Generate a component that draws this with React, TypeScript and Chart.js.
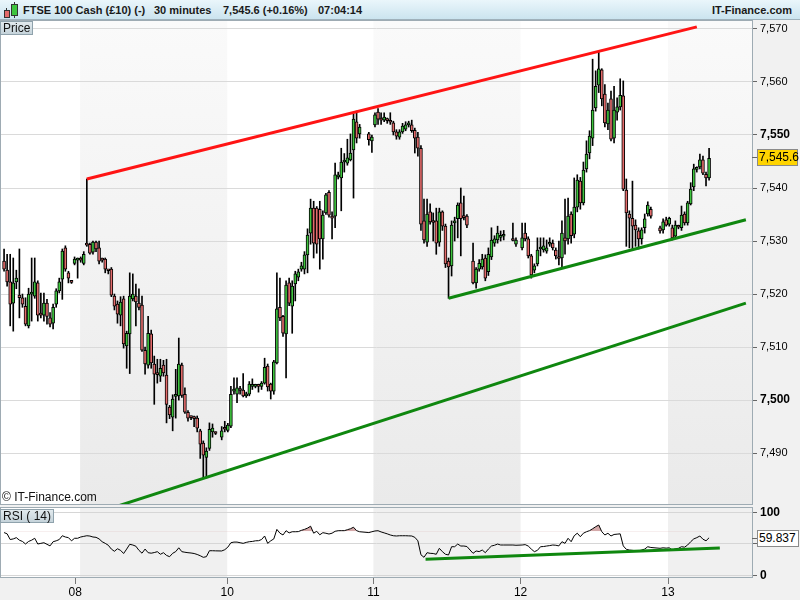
import React, { useEffect, useRef } from "react";
import { Chart, registerables } from "chart.js";

Chart.register(...registerables);

// [open, high, low, close] per 30-minute slot, null = no candle in that slot
type Candle = [number, number, number, number] | null;

const ohlc: Candle[] = [
  [7526.2, 7528.5, 7524.3, 7524.7], [7524.5, 7527.5, 7521.5, 7522.3], [7522.3, 7527.5, 7514.0, 7518.1],
  [7518.3, 7526.8, 7513.0, 7522.1], [7522.3, 7524.5, 7521.0, 7523.0], [7519.8, 7528.5, 7515.5, 7519.3],
  [7519.3, 7520.0, 7517.5, 7518.1], [7517.7, 7519.3, 7514.0, 7514.3], [7514.0, 7521.1, 7513.6, 7520.0],
  [7520.0, 7526.8, 7514.9, 7520.2], [7519.6, 7526.8, 7519.2, 7522.3], [7522.1, 7522.5, 7514.9, 7516.0],
  [7516.4, 7520.2, 7515.5, 7516.0], [7516.0, 7520.2, 7514.9, 7518.3], [7518.3, 7519.0, 7514.3, 7515.8],
  [7515.5, 7516.5, 7513.8, 7514.3], [7514.5, 7518.1, 7513.4, 7517.5], [7518.1, 7521.0, 7517.5, 7520.6],
  [7520.6, 7523.0, 7520.2, 7522.3], [7522.8, 7528.5, 7519.0, 7528.1], [7528.7, 7529.1, 7524.3, 7524.7],
  [7524.0, 7524.3, 7522.1, 7523.0], [7522.3, 7522.5, 7522.0, 7522.2], [7525.8, 7527.0, 7525.5, 7526.6],
  [7526.4, 7526.8, 7523.0, 7526.5], [7526.8, 7527.0, 7526.0, 7526.4], [7525.8, 7528.0, 7525.5, 7527.5],
  [7529.6, 7541.7, 7529.0, 7529.2], [7529.4, 7529.6, 7527.5, 7527.7], [7527.9, 7530.0, 7527.5, 7529.8],
  [7529.8, 7530.0, 7528.0, 7528.5], [7528.7, 7530.0, 7525.7, 7526.2], [7526.6, 7526.8, 7526.0, 7526.4],
  [7526.6, 7526.8, 7524.0, 7524.7], [7524.5, 7524.5, 7523.8, 7524.4], [7524.7, 7525.0, 7519.5, 7519.8],
  [7519.6, 7520.0, 7517.0, 7517.7], [7518.1, 7518.7, 7514.5, 7516.2], [7516.0, 7519.5, 7514.0, 7518.5],
  [7519.1, 7519.6, 7509.8, 7510.6], [7510.2, 7513.0, 7506.0, 7512.6], [7512.5, 7524.0, 7505.0, 7519.6],
  [7519.1, 7523.8, 7518.7, 7520.0], [7519.6, 7521.9, 7514.0, 7518.5], [7518.3, 7521.0, 7517.0, 7517.5],
  [7517.9, 7519.6, 7509.2, 7509.4], [7509.4, 7510.0, 7504.9, 7506.8], [7506.6, 7515.8, 7506.0, 7512.6],
  [7512.5, 7513.2, 7506.0, 7507.0], [7506.8, 7508.3, 7499.2, 7504.9], [7505.0, 7507.7, 7503.2, 7504.8],
  [7504.5, 7507.7, 7503.5, 7506.0], [7506.6, 7507.5, 7504.5, 7505.1], [7504.7, 7507.7, 7495.7, 7499.2],
  [7498.7, 7499.0, 7496.5, 7497.2], [7496.8, 7501.0, 7494.2, 7500.2], [7500.7, 7505.8, 7496.6, 7500.8],
  [7500.8, 7511.7, 7500.0, 7506.8], [7506.6, 7507.0, 7500.5, 7500.9], [7501.1, 7502.3, 7497.5, 7497.7],
  [7497.7, 7498.0, 7496.0, 7496.6], [7496.8, 7497.0, 7496.3, 7496.7], [7496.6, 7497.0, 7495.0, 7496.5],
  [7496.6, 7497.0, 7494.0, 7494.7], [7494.2, 7494.5, 7489.0, 7491.7], [7491.9, 7492.3, 7485.3, 7489.6],
  [7489.2, 7491.0, 7485.3, 7490.4], [7490.9, 7495.7, 7490.5, 7494.5], [7494.0, 7495.5, 7493.0, 7494.7],
  [7493.8, 7494.0, 7493.5, 7493.7],
  null,
  [7493.0, 7495.0, 7492.5, 7494.2], [7494.6, 7496.0, 7494.0, 7494.5], [7494.3, 7495.6, 7494.0, 7495.3],
  [7495.1, 7502.6, 7494.8, 7501.1], [7501.7, 7504.2, 7501.1, 7501.8], [7501.1, 7504.2, 7499.5, 7502.3],
  [7501.9, 7502.6, 7501.1, 7501.8], [7501.9, 7505.0, 7500.6, 7500.8], [7500.8, 7501.5, 7500.5, 7501.1],
  [7501.1, 7503.5, 7500.8, 7503.0], [7502.6, 7504.0, 7502.0, 7502.7], [7502.6, 7503.0, 7502.3, 7502.7],
  [7502.7, 7503.0, 7501.5, 7502.6], [7502.6, 7503.5, 7502.0, 7503.2], [7503.2, 7507.9, 7503.0, 7506.2],
  [7506.4, 7506.8, 7501.7, 7502.5], [7503.0, 7503.2, 7500.2, 7501.7], [7501.7, 7507.5, 7501.1, 7507.2],
  [7507.0, 7524.0, 7506.8, 7517.2], [7517.5, 7523.0, 7515.0, 7515.5], [7515.8, 7516.0, 7512.0, 7512.6],
  [7512.5, 7522.5, 7504.2, 7521.7], [7522.1, 7523.0, 7517.8, 7518.3], [7517.7, 7522.5, 7512.6, 7521.5],
  [7521.9, 7524.3, 7518.7, 7523.8], [7523.2, 7524.7, 7522.5, 7524.2], [7524.7, 7526.0, 7524.3, 7525.3],
  [7524.7, 7528.0, 7523.8, 7527.4], [7527.4, 7532.3, 7524.0, 7531.1], [7531.5, 7537.9, 7529.4, 7536.2],
  [7536.2, 7537.5, 7526.8, 7529.6], [7536.2, 7536.5, 7527.7, 7529.4], [7536.0, 7537.5, 7524.7, 7530.4],
  [7530.4, 7535.7, 7526.6, 7534.9], [7535.3, 7539.0, 7535.0, 7538.7], [7539.2, 7539.5, 7534.5, 7534.9],
  [7534.7, 7535.5, 7530.4, 7534.3], [7534.7, 7544.7, 7532.5, 7542.5], [7542.1, 7543.0, 7541.7, 7542.5],
  [7541.9, 7547.5, 7535.7, 7544.9], [7544.9, 7546.5, 7543.0, 7545.0], [7544.7, 7549.2, 7544.3, 7545.7],
  [7545.3, 7550.2, 7545.1, 7546.6], [7547.2, 7554.0, 7538.1, 7553.0], [7552.5, 7554.5, 7548.5, 7549.4],
  [7550.2, 7552.0, 7549.4, 7551.5],
  null, null,
  [7550.2, 7550.5, 7548.1, 7549.1], [7548.9, 7550.0, 7546.7, 7549.6], [7551.9, 7554.2, 7551.5, 7553.8],
  [7554.3, 7555.0, 7552.0, 7553.0], [7552.9, 7554.2, 7552.0, 7552.8], [7552.8, 7554.2, 7552.5, 7553.4],
  [7552.8, 7553.2, 7552.2, 7552.7], [7552.5, 7554.2, 7552.0, 7552.4], [7552.3, 7552.6, 7550.0, 7550.6],
  [7550.6, 7551.0, 7549.2, 7549.8], [7549.6, 7551.0, 7549.2, 7550.6], [7550.6, 7552.2, 7550.3, 7551.7],
  [7551.1, 7552.5, 7550.8, 7551.9], [7551.9, 7552.6, 7551.5, 7552.0], [7551.9, 7552.8, 7550.5, 7550.8],
  [7550.9, 7551.3, 7546.6, 7549.4], [7549.6, 7550.5, 7546.0, 7547.5], [7547.5, 7548.0, 7532.0, 7533.2],
  [7533.8, 7537.9, 7529.6, 7530.2], [7529.8, 7537.9, 7529.0, 7535.1], [7535.5, 7537.0, 7533.2, 7533.6],
  [7533.6, 7535.3, 7530.0, 7533.5], [7533.8, 7536.2, 7527.5, 7529.6], [7529.8, 7536.2, 7529.0, 7535.5],
  [7535.5, 7535.7, 7532.0, 7532.8], [7532.8, 7533.2, 7525.0, 7525.7], [7526.2, 7526.8, 7519.2, 7525.1],
  [7525.3, 7533.8, 7523.4, 7533.0], [7533.4, 7534.5, 7530.0, 7533.8], [7534.2, 7537.2, 7530.6, 7536.8],
  [7537.2, 7540.0, 7527.2, 7534.2], [7534.5, 7538.5, 7534.0, 7534.4], [7534.7, 7535.0, 7532.5, 7533.0],
  null,
  [7526.2, 7529.6, 7521.9, 7522.1], [7522.1, 7525.0, 7521.1, 7524.7], [7524.7, 7526.5, 7524.3, 7525.8],
  [7525.1, 7527.5, 7524.7, 7526.6], [7526.8, 7527.4, 7522.5, 7523.0], [7524.2, 7528.7, 7523.5, 7527.5],
  [7527.0, 7532.5, 7526.5, 7530.2], [7529.6, 7531.0, 7529.0, 7530.4], [7530.2, 7532.8, 7529.6, 7531.5],
  [7530.7, 7531.9, 7530.0, 7530.8], [7530.9, 7532.0, 7530.2, 7531.0],
  null, null,
  [7530.2, 7533.4, 7530.0, 7530.1], [7529.4, 7530.6, 7529.0, 7530.2],
  null,
  [7528.7, 7533.4, 7528.3, 7530.6], [7531.5, 7533.4, 7530.0, 7530.4], [7530.4, 7530.8, 7526.8, 7527.2],
  [7527.2, 7527.5, 7523.0, 7523.6], [7524.5, 7525.7, 7524.0, 7525.3], [7525.7, 7530.6, 7525.3, 7528.3],
  [7528.5, 7530.6, 7527.2, 7528.6], [7528.3, 7530.6, 7527.9, 7529.1], [7528.1, 7530.2, 7527.7, 7528.7],
  [7529.4, 7530.6, 7529.0, 7529.5], [7529.6, 7530.2, 7528.3, 7528.7], [7528.3, 7528.7, 7526.6, 7527.2],
  [7526.8, 7530.0, 7525.5, 7526.7],
  [7526.8, 7533.8, 7525.0, 7531.5], [7530.6, 7537.9, 7527.5, 7530.0], [7530.4, 7538.1, 7529.4, 7534.7],
  [7535.1, 7535.5, 7529.6, 7531.0], [7531.3, 7541.9, 7530.6, 7536.4], [7536.4, 7542.5, 7535.5, 7541.5],
  [7541.3, 7542.0, 7536.0, 7537.2], [7537.2, 7544.9, 7536.8, 7543.4], [7543.6, 7548.9, 7543.0, 7546.4],
  [7546.6, 7550.8, 7545.5, 7549.8], [7549.4, 7564.3, 7548.0, 7554.7], [7555.1, 7562.1, 7554.5, 7559.2],
  [7559.4, 7565.8, 7558.0, 7562.5], [7562.3, 7562.5, 7555.5, 7556.8], [7557.7, 7559.5, 7551.5, 7552.3],
  [7552.1, 7556.0, 7551.0, 7554.7], [7556.8, 7558.3, 7548.9, 7549.2], [7549.4, 7559.2, 7548.5, 7554.7],
  [7554.3, 7557.0, 7552.8, 7555.3], [7555.3, 7560.6, 7554.7, 7557.5], [7557.4, 7560.2, 7539.5, 7539.8],
  [7539.6, 7541.7, 7529.0, 7535.3], [7535.1, 7535.7, 7528.7, 7534.3], [7534.3, 7541.3, 7528.3, 7532.8],
  [7533.0, 7534.0, 7529.0, 7532.1], [7531.9, 7532.5, 7528.5, 7530.4], [7530.4, 7532.5, 7529.4, 7532.1],
  [7532.5, 7535.1, 7531.5, 7534.2], [7535.1, 7537.4, 7534.7, 7536.8], [7536.0, 7536.4, 7534.3, 7534.7],
  null, null,
  [7532.5, 7532.8, 7531.5, 7531.9], [7532.1, 7534.2, 7531.5, 7533.6], [7534.0, 7534.5, 7532.8, 7533.0],
  [7533.2, 7534.5, 7532.8, 7534.3], [7532.5, 7533.0, 7530.2, 7530.6], [7530.9, 7533.8, 7530.6, 7533.0],
  [7532.7, 7533.0, 7532.3, 7532.6], [7532.5, 7536.6, 7532.0, 7534.9], [7535.1, 7535.5, 7533.0, 7533.4],
  [7533.4, 7537.5, 7533.0, 7537.2], [7537.0, 7541.0, 7536.8, 7539.8], [7540.2, 7544.5, 7539.5, 7543.6],
  [7543.5, 7544.0, 7543.0, 7543.6], [7544.0, 7546.4, 7543.6, 7545.3], [7545.3, 7546.0, 7542.5, 7542.8],
  [7542.6, 7543.0, 7540.4, 7541.9], [7541.9, 7547.5, 7541.5, 7545.6],
];

// RSI(14) per slot
const rsiValues: (number | null)[] = [
  68, 66, 57, 58, 60, 56, 54, 50, 54, 56,
  59, 50, 51, 52, 49.5, 47, 53.6, 55, 57, 63,
  61, 60, 55, 59, 59, 61, 62, 63, 62.5, 61,
  60.5, 58, 53.6, 51, 48, 42, 38.5, 42.5, 40, 35,
  42, 49.5, 48.4, 46.5, 40, 35.5, 42, 36.3, 35.5, 36.5,
  37.9, 33.8, 36.3, 32, 30, 35.3, 38, 44, 37.9, 37,
  36.3, 35.8, 35, 33.5, 31.5, 29, 30, 39.4, 39.4, 39.2,
  null, 39, 41, 45, 52, 53, 53, 52, 51, 52.5,
  53.6, 54, 55, 55.2, 57, 62.6, 51, 55, 58, 73,
  67, 64.2, 70.9, 67.5, 69.3, 69.3, 69.5, 71.5, 73, 75,
  78, 67, 70, 64.5, 67.8, 66.9, 65.7, 67, 70, 70.9,
  71, 71, 72.5, 74, 76.4, 71, 69.3, null, null, 68,
  69.3, 70.5, 70.9, 69, 67.5, 66, 64.2, 63, 62.6, 63,
  63, 63, 62.8, 62.6, 60.5, 55, 33, 29, 36.3, 35.3,
  35, 33.8, 43.2, 37.9, 33.8, 32.7, 45.7, 45.7, 49.9, 46.8,
  46.8, 46, null, 35.3, 39, 38, 40.5, 36.3, 42, 46.8,
  48, 49.9, 48.4, 48.4, null, null, 48.4, 48, null, 48.4,
  49, 46.8, 42, 37.9, 40, 45.7, 46, 46.8, 47.5, 48.4,
  48, 47, 53.6, 51, 59, 53.6, 63, 67, 61.5, 67,
  69.3, 71, 74, 77.2, 79.9, 69.3, 64.2, 66.9, 62.6, 65,
  65.5, 66, 47, 41.6, 40.5, 40, 39.4, 39, 40.5, 42,
  45.7, 44.5, null, null, 43.2, 44, 43.5, 44, 40.5, 42.5,
  43.2, 45.7, 45, 48.4, 53.6, 58, 60, 62.6, 57.5, 55, 59.8,
];

const priceTicks = [7490, 7500, 7510, 7520, 7530, 7540, 7550, 7560, 7570];
const boldPriceTicks = [7500, 7550];
const rsiTicks = [0, 30, 50, 70, 100];
const rsiLevels = [30, 70];
const dayLabels = ["08", "10", "11", "12", "13"];
const dayTickIdx = [23.2, 72.8, 120.5, 168.5, 216.6];
const shadedSessions: [number, number][] = [[24.8, 72.8], [120.5, 168.5], [216.6, 244]];

const resistanceLine = [{ x: 27, y: 7541.7 }, { x: 226, y: 7570.4 }];
const lowerChannelLine = [{ x: 37, y: 7480.0 }, { x: 242, y: 7518.3 }];
const supportLine = [{ x: 145, y: 7519.2 }, { x: 242, y: 7534.0 }];
const rsiTrendLine = [{ x: 137.5, y: 26 }, { x: 233.5, y: 43.5 }];

const X_MIN = -1;
const X_MAX = 244;
const PRICE_MIN = 7480.4;
const PRICE_MAX = 7571.5;
const RSI_MIN = -2;
const RSI_MAX = 106.7;

const lastPriceLabel = "7,545.6";
const lastRsiLabel = "59.837";

const FONT = "'Liberation Sans', Arial, Helvetica, sans-serif";
const GREEN = "#3ec43e";
const RED = "#e36b6b";
const BORDER = "#9eabb3";

const panelPlugin = {
  id: "panel",
  beforeDraw(chart: any, _a: any, opts: any) {
    const { ctx, chartArea: a, scales } = chart;
    const x = scales.x;
    ctx.save();
    ctx.fillStyle = "#f1f1f1";
    ctx.fillRect(0, 0, chart.width, chart.height);
    ctx.fillStyle = "#ffffff";
    ctx.fillRect(a.left, a.top, a.right - a.left, a.bottom - a.top);
    let fill: any = "#f0f0f0";
    if (opts && opts.gradient) {
      const g = ctx.createLinearGradient(0, a.top, 0, a.bottom);
      g.addColorStop(0, "#fafafa");
      g.addColorStop(1, "#eaeaea");
      fill = g;
    }
    ctx.fillStyle = fill;
    for (const [s, e] of shadedSessions) {
      const x0 = Math.max(a.left, x.getPixelForValue(s));
      const x1 = Math.min(a.right, x.getPixelForValue(e));
      if (x1 > x0) ctx.fillRect(x0, a.top, x1 - x0, a.bottom - a.top);
    }
    ctx.restore();
  },
  afterDraw(chart: any) {
    const { ctx, chartArea: a } = chart;
    ctx.save();
    ctx.strokeStyle = BORDER;
    ctx.lineWidth = 1;
    ctx.strokeRect(
      Math.round(a.left) - 0.5,
      Math.round(a.top) - 0.5,
      Math.round(a.right - a.left) + 1,
      Math.round(a.bottom - a.top) + 1
    );
    ctx.restore();
  },
};

const fmt = (v: number) => v.toLocaleString("en-US");

const noPad = (s: any) => {
  s.paddingTop = 0;
  s.paddingBottom = 0;
  s.paddingLeft = 0;
  s.paddingRight = 0;
};

export default function App() {
  const mainRef = useRef<HTMLCanvasElement>(null);
  const rsiRef = useRef<HTMLCanvasElement>(null);

  useEffect(() => {
    Chart.defaults.font.family = FONT;
    const bodies: any[] = [];
    const wicks: any[] = [];
    ohlc.forEach((c, i) => {
      if (!c) return;
      bodies.push({ x: i, y: [c[0], c[3]] });
      wicks.push({ x: i, y: [c[2], c[1]] });
    });
    const rsiPoints: any[] = [];
    rsiValues.forEach((v, i) => {
      if (v !== null) rsiPoints.push({ x: i, y: v });
    });

    const trend = (data: any[], color: string) => ({
      type: "line" as const,
      data,
      borderColor: color,
      borderWidth: 3,
      pointRadius: 0,
      fill: false,
      order: 0,
    });

    const main = new Chart(mainRef.current as HTMLCanvasElement, {
      type: "bar",
      data: {
        datasets: [
          trend(resistanceLine, "#ff1414"),
          trend(lowerChannelLine, "#0f870f"),
          trend(supportLine, "#0f870f"),
          {
            type: "bar",
            data: bodies,
            backgroundColor: (c: any) => {
              const r = c.raw;
              if (!r || !r.y) return GREEN;
              return r.y[1] >= r.y[0] ? GREEN : RED;
            },
            borderColor: "#000",
            borderWidth: 1,
            borderSkipped: false,
            barThickness: 3,
            minBarLength: 2,
            grouped: false,
            order: 1,
          } as any,
          {
            type: "bar",
            data: wicks,
            backgroundColor: "#000",
            borderWidth: 0,
            barThickness: 1,
            grouped: false,
            order: 2,
          } as any,
        ],
      },
      options: {
        animation: false,
        responsive: false,
        events: [],
        layout: { padding: { left: 1, top: 1, bottom: 1, right: 0 } },
        plugins: {
          legend: { display: false },
          tooltip: { enabled: false },
          panel: { gradient: true },
        } as any,
        scales: {
          x: { type: "linear", min: X_MIN, max: X_MAX, display: false, offset: false },
          y: {
            position: "right",
            min: PRICE_MIN,
            max: PRICE_MAX,
            afterBuildTicks: (s: any) => {
              s.ticks = priceTicks.map((v) => ({ value: v }));
            },
            afterFit: (s: any) => {
              s.width = 48;
              noPad(s);
            },
            ticks: {
              callback: (v: any) => fmt(Number(v)),
              color: "#000",
              padding: 3,
              font: (c: any) =>
                c.tick && boldPriceTicks.includes(c.tick.value)
                  ? { size: 12, weight: "bold", family: FONT }
                  : { size: 11, weight: "normal", family: FONT },
            },
            grid: { color: "#dadada", tickLength: 5, tickColor: "#666" },
            border: { display: false },
          },
        },
      } as any,
      plugins: [panelPlugin],
    });

    const rsi = new Chart(rsiRef.current as HTMLCanvasElement, {
      type: "line",
      data: {
        datasets: [
          trend(rsiTrendLine, "#0f870f"),
          {
            type: "line",
            data: rsiPoints,
            borderColor: "#000",
            borderWidth: 1,
            pointRadius: 0,
            tension: 0,
            fill: { target: { value: 70 }, above: "#d4a9a9", below: "rgba(0,0,0,0)" },
            order: 1,
          } as any,
        ],
      },
      options: {
        animation: false,
        responsive: false,
        events: [],
        layout: { padding: { left: 1, top: 1, bottom: 0, right: 0 } },
        plugins: {
          legend: { display: false },
          tooltip: { enabled: false },
          panel: { gradient: false },
        } as any,
        scales: {
          x: {
            type: "linear",
            min: X_MIN,
            max: X_MAX,
            offset: false,
            afterBuildTicks: (s: any) => {
              s.ticks = dayTickIdx.map((v) => ({ value: v }));
            },
            afterFit: (s: any) => {
              s.height = 23;
              noPad(s);
            },
            ticks: {
              callback: (_v: any, i: number) => dayLabels[i],
              color: "#000",
              padding: 1,
              autoSkip: false,
              maxRotation: 0,
              font: { size: 12, family: FONT },
            },
            grid: { drawOnChartArea: false, tickLength: 7, color: "#777" },
            border: { display: false },
          },
          y: {
            position: "right",
            min: RSI_MIN,
            max: RSI_MAX,
            afterBuildTicks: (s: any) => {
              s.ticks = rsiTicks.map((v) => ({ value: v }));
            },
            afterFit: (s: any) => {
              s.width = 48;
              noPad(s);
            },
            ticks: {
              callback: (v: any) => (rsiLevels.includes(Number(v)) ? "" : String(v)),
              color: "#000",
              padding: 3,
              font: (c: any) =>
                c.tick && c.tick.value !== 50
                  ? { size: 12, weight: "bold", family: FONT }
                  : { size: 11, weight: "normal", family: FONT },
            },
            grid: {
              color: (c: any) => (c.tick && rsiLevels.includes(c.tick.value) ? "#2323d8" : "#d6d6d6"),
              tickColor: (c: any) => (c.tick && rsiLevels.includes(c.tick.value) ? "rgba(0,0,0,0)" : "#666"),
              tickLength: 5,
            },
            border: { display: false },
          },
        },
      } as any,
      plugins: [panelPlugin],
    });

    return () => {
      main.destroy();
      rsi.destroy();
    };
  }, []);

  const boxStyle: React.CSSProperties = {
    position: "absolute",
    background: "linear-gradient(#e2eaee, #c5d3da)",
    border: "1px solid #8fa2ac",
    fontSize: 12,
    lineHeight: "12px",
    padding: "0 2px",
    color: "#111",
    whiteSpace: "nowrap",
  };
  const headText: React.CSSProperties = {
    position: "absolute",
    top: 0,
    height: 20,
    lineHeight: "21px",
    fontSize: 11,
    fontWeight: "bold",
    color: "#1a1a1a",
    whiteSpace: "nowrap",
  };

  return (
    <div
      style={{
        position: "fixed",
        left: 0,
        top: 0,
        width: 800,
        height: 600,
        background: "#f1f1f1",
        fontFamily: FONT,
        overflow: "hidden",
      }}
    >
      <div
        style={{
          position: "absolute",
          left: 0,
          top: 0,
          width: 800,
          height: 20,
          background: "linear-gradient(#eaf6fb, #cbe4ef)",
          borderBottom: "1px solid #9fb1bb",
          boxSizing: "border-box",
        }}
      >
        <div style={{ position: "absolute", left: 6, top: 8, width: 1, height: 10, background: "#333" }} />
        <div style={{ position: "absolute", left: 4, top: 10, width: 4, height: 6, background: RED, border: "1px solid #333" }} />
        <div style={{ position: "absolute", left: 14, top: 2, width: 1, height: 16, background: "#333" }} />
        <div style={{ position: "absolute", left: 11, top: 4, width: 5, height: 10, background: GREEN, border: "1px solid #333" }} />
        <span style={{ ...headText, left: 23 }}>FTSE 100 Cash (£10) (-)</span>
        <span style={{ ...headText, left: 154 }}>30 minutes</span>
        <span style={{ ...headText, left: 223 }}>7,545.6 (+0.16%)</span>
        <span style={{ ...headText, left: 318 }}>07:04:14</span>
        <span style={{ ...headText, right: 8 }}>IT-Finance.com</span>
      </div>

      <canvas
        ref={mainRef}
        width={800}
        height={485}
        style={{ position: "absolute", left: 0, top: 20, width: 800, height: 485 }}
      />
      <canvas
        ref={rsiRef}
        width={800}
        height={93}
        style={{ position: "absolute", left: 0, top: 507, width: 800, height: 93 }}
      />

      <div style={{ ...boxStyle, left: 0, top: 21 }}>Price</div>
      <div style={{ position: "absolute", left: 2, top: 490, fontSize: 12, color: "#111", whiteSpace: "nowrap" }}>
        © IT-Finance.com
      </div>
      <div style={{ ...boxStyle, left: 0, top: 509 }}>RSI ( 14)</div>

      <div style={{ position: "absolute", left: 752, top: 157, width: 5, height: 1, background: "#666" }} />
      <div
        style={{
          position: "absolute",
          left: 757,
          top: 149,
          width: 38,
          height: 15,
          background: "#ffd400",
          border: "1px solid #8a8a8a",
          fontSize: 12,
          lineHeight: "15px",
          paddingLeft: 1,
          color: "#000",
          whiteSpace: "nowrap",
        }}
      >
        {lastPriceLabel}
      </div>

      <div style={{ position: "absolute", left: 752, top: 538, width: 5, height: 1, background: "#666" }} />
      <div
        style={{
          position: "absolute",
          left: 757,
          top: 530,
          width: 39,
          height: 15,
          background: "#ffffff",
          border: "1px solid #8a8a8a",
          fontSize: 12,
          lineHeight: "15px",
          paddingLeft: 1,
          color: "#000",
          whiteSpace: "nowrap",
        }}
      >
        {lastRsiLabel}
      </div>
    </div>
  );
}
